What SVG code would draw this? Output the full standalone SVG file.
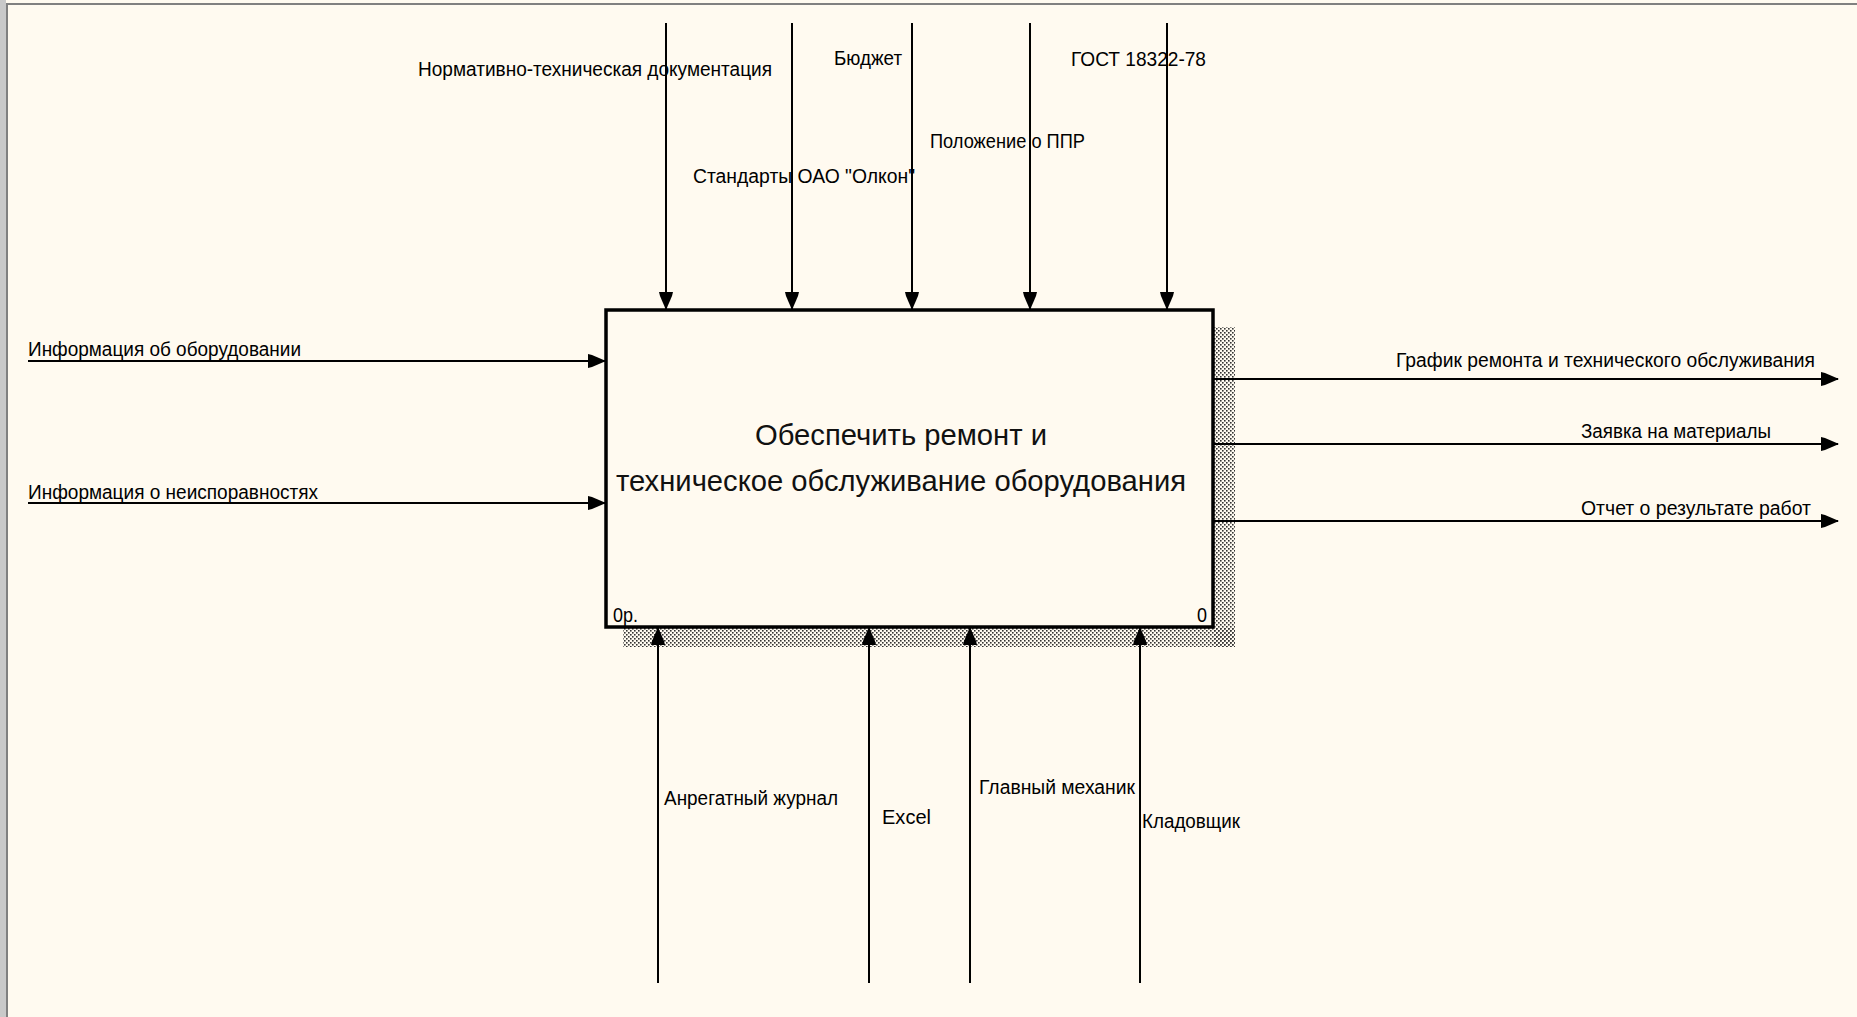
<svg xmlns="http://www.w3.org/2000/svg" width="1857" height="1017" viewBox="0 0 1857 1017">
  <style>
    .lbl { font-family: "Liberation Sans", Arial, sans-serif; font-size: 20px; fill: #000; }
    .title { font-family: "Liberation Sans", Arial, sans-serif; font-size: 30px; fill: #111; text-anchor: middle; }
    .num { font-family: "Liberation Sans", Arial, sans-serif; font-size: 20px; fill: #000; }
    .arrow { stroke: #000; stroke-width: 2; fill: none; marker-end: url(#head); }
    .box { fill: #fffaf0; stroke: #000; stroke-width: 3.5; }
  </style>
  <defs>
    <marker id="head" markerUnits="userSpaceOnUse" viewBox="0 0 18 15" refX="17" refY="7.5" markerWidth="18" markerHeight="15" orient="auto">
      <path d="M0,0.5 L4,1.5 L18,7.5 L4,13.5 L0,14.5 Z" fill="#000"/>
    </marker>
    <pattern id="dots" width="4" height="4" patternUnits="userSpaceOnUse">
      <rect x="0" y="0" width="1.6" height="1.6" fill="#333"/>
      <rect x="2" y="2" width="1.6" height="1.6" fill="#333"/>
    </pattern>
  </defs>

  <!-- page background and window frame -->
  <rect x="0" y="0" width="1857" height="1017" fill="#fffaf0"/>
  <rect x="0" y="0" width="6" height="1017" fill="#c9c9c9"/>
  <rect x="6" y="3" width="2" height="1014" fill="#808080"/>
  <rect x="6" y="3" width="1851" height="2" fill="#808080"/>

  <!-- activity box A0 -->
  <g id="node-a0">
    <rect x="1214" y="327" width="21" height="320" fill="url(#dots)"/>
    <rect x="623" y="628" width="612" height="19" fill="url(#dots)"/>
    <rect class="box" x="606" y="310" width="607" height="317"/>
    <text class="title" x="901" y="445" textLength="292" lengthAdjust="spacingAndGlyphs">Обеспечить ремонт и</text>
    <text class="title" x="901" y="491" textLength="570" lengthAdjust="spacingAndGlyphs">техническое обслуживание оборудования</text>
    <text class="num" x="613" y="622" textLength="25" lengthAdjust="spacingAndGlyphs">0р.</text>
    <text class="num" x="1197" y="622" textLength="10" lengthAdjust="spacingAndGlyphs">0</text>
  </g>

  <!-- arrow labels -->
  <g id="labels">
    <text class="lbl" x="418" y="76" textLength="354" lengthAdjust="spacingAndGlyphs">Нормативно-техническая документация</text>
    <text class="lbl" x="834" y="65" textLength="68" lengthAdjust="spacingAndGlyphs">Бюджет</text>
    <text class="lbl" x="1071" y="66" textLength="135" lengthAdjust="spacingAndGlyphs">ГОСТ 18322-78</text>
    <text class="lbl" x="930" y="148" textLength="155" lengthAdjust="spacingAndGlyphs">Положение о ППР</text>
    <text class="lbl" x="693" y="183" textLength="222" lengthAdjust="spacingAndGlyphs">Стандарты ОАО "Олкон"</text>
    <text class="lbl" x="28" y="356" textLength="273" lengthAdjust="spacingAndGlyphs">Информация об оборудовании</text>
    <text class="lbl" x="28" y="499" textLength="290" lengthAdjust="spacingAndGlyphs">Информация о неиспоравностях</text>
    <text class="lbl" x="1396" y="367" textLength="419" lengthAdjust="spacingAndGlyphs">График ремонта и технического обслуживания</text>
    <text class="lbl" x="1581" y="438" textLength="190" lengthAdjust="spacingAndGlyphs">Заявка на материалы</text>
    <text class="lbl" x="1581" y="515" textLength="230" lengthAdjust="spacingAndGlyphs">Отчет о результате работ</text>
    <text class="lbl" x="664" y="805" textLength="174" lengthAdjust="spacingAndGlyphs">Анрегатный журнал</text>
    <text class="lbl" x="882" y="824" textLength="49" lengthAdjust="spacingAndGlyphs">Excel</text>
    <text class="lbl" x="979" y="794" textLength="156" lengthAdjust="spacingAndGlyphs">Главный механик</text>
    <text class="lbl" x="1142" y="828" textLength="98" lengthAdjust="spacingAndGlyphs">Кладовщик</text>
  </g>

  <!-- connectors: controls (top), inputs (left), outputs (right), mechanisms (bottom) -->
  <g id="connectors">
    <path class="arrow" d="M666,23 V309"/>
    <path class="arrow" d="M792,23 V309"/>
    <path class="arrow" d="M912,23 V309"/>
    <path class="arrow" d="M1030,23 V309"/>
    <path class="arrow" d="M1167,23 V309"/>

    <path class="arrow" d="M28,361 H605"/>
    <path class="arrow" d="M28,503 H605"/>

    <path class="arrow" d="M1214,379 H1838"/>
    <path class="arrow" d="M1214,444 H1838"/>
    <path class="arrow" d="M1214,521 H1838"/>

    <path class="arrow" d="M658,983 V628"/>
    <path class="arrow" d="M869,983 V628"/>
    <path class="arrow" d="M970,983 V628"/>
    <path class="arrow" d="M1140,983 V628"/>
  </g>
</svg>
